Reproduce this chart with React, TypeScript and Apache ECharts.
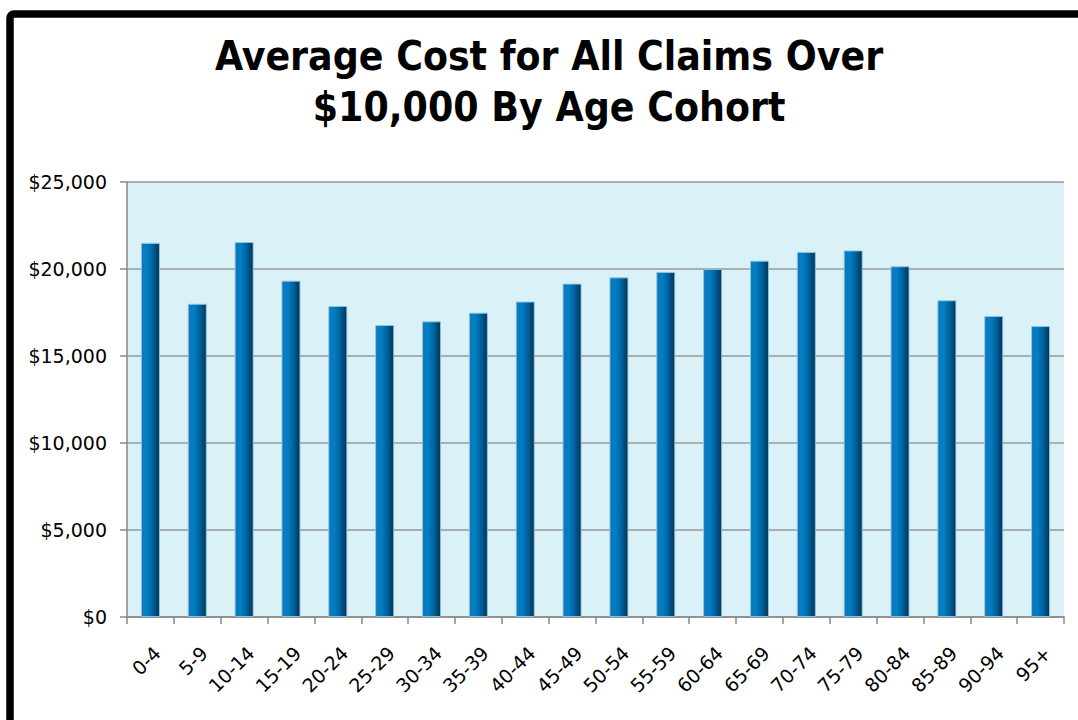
import React, { useEffect, useRef } from "react";
import * as echarts from "echarts";

const titleLines = ["Average Cost for All Claims Over", "$10,000 By Age Cohort"];
const categories = [
  "0-4", "5-9", "10-14", "15-19", "20-24", "25-29", "30-34", "35-39", "40-44", "45-49",
  "50-54", "55-59", "60-64", "65-69", "70-74", "75-79", "80-84", "85-89", "90-94", "95+",
];
const averageCost = [
  21500, 18000, 21550, 19330, 17870, 16780, 16990, 17490, 18130, 19160,
  19520, 19830, 20000, 20480, 20980, 21070, 20160, 18200, 17300, 16720,
];
const yMin = 0;
const yMax = 25000;
const yInterval = 5000;

const FONT = "'DejaVu Sans Condensed', 'DejaVu Sans', sans-serif";
const LABEL_FONT = "'DejaVu Sans', sans-serif";

export default function App() {
  const ref = useRef<HTMLDivElement>(null);
  useEffect(() => {
    if (!ref.current) return;
    const chart = echarts.init(ref.current, null, { renderer: "svg" });
    chart.setOption({
      animation: false,
      backgroundColor: "#ffffff",
      grid: {
        left: 127,
        right: 14,
        top: 182,
        bottom: 103,
        containLabel: false,
        show: true,
        backgroundColor: "#DAF1F8",
        borderWidth: 0,
      },
      graphic: [
        {
          type: "rect",
          shape: { x: 10, y: 14, width: 1100, height: 800, r: 4 },
          style: { fill: "none", stroke: "#000", lineWidth: 7.5 },
          z: 100,
        },
        {
          type: "text",
          x: 549,
          y: 56,
          style: {
            text: titleLines[0],
            fill: "#000",
            font: `bold 40.5px ${FONT}`,
            align: "center",
            verticalAlign: "middle",
          },
        },
        {
          type: "text",
          x: 549,
          y: 106.5,
          style: {
            text: titleLines[1],
            fill: "#000",
            font: `bold 40.5px ${FONT}`,
            align: "center",
            verticalAlign: "middle",
          },
        },
      ],
      xAxis: {
        type: "category",
        data: categories,
        boundaryGap: true,
        axisLine: { show: true, lineStyle: { color: "#888", width: 1.5 } },
        axisTick: { show: true, length: 7, alignWithLabel: false, lineStyle: { color: "#888", width: 1.5 } },
        axisLabel: {
          interval: 0,
          rotate: 45,
          margin: 26,
          fontSize: 19,
          color: "#000",
          fontFamily: LABEL_FONT,
          verticalAlign: "top",
        },
        splitLine: { show: false },
      },
      yAxis: {
        type: "value",
        min: yMin,
        max: yMax,
        interval: yInterval,
        axisLine: { show: true, lineStyle: { color: "#888", width: 1.5 } },
        axisTick: { show: true, length: 7, lineStyle: { color: "#888", width: 1.5 } },
        axisLabel: {
          margin: 20,
          fontSize: 19,
          color: "#000",
          fontFamily: LABEL_FONT,
          formatter: (v: number) => "$" + v.toLocaleString("en-US"),
        },
        splitLine: { show: true, lineStyle: { color: "#999", width: 1.5 } },
      },
      series: [
        {
          type: "bar",
          data: averageCost,
          barWidth: 19,
          itemStyle: {
            color: new echarts.graphic.LinearGradient(0, 0, 1, 0, [
              { offset: 0, color: "#1474B4" },
              { offset: 0.3, color: "#0080C6" },
              { offset: 0.65, color: "#00609C" },
              { offset: 1, color: "#053352" },
            ]),
            borderColor: "rgba(140,200,230,0.9)",
            borderWidth: 1,
          },
        },
      ],
    });
    return () => chart.dispose();
  }, []);
  return (
    <div
      ref={ref}
      style={{ position: "fixed", left: 0, top: 0, width: 1078, height: 720 }}
    />
  );
}
